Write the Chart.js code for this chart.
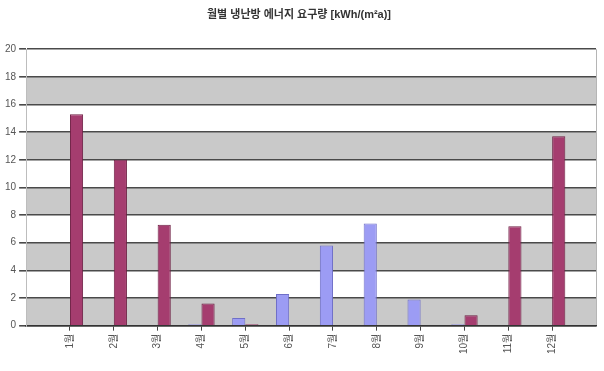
<!DOCTYPE html>
<html>
<head>
<meta charset="utf-8">
<script src="https://cdn.jsdelivr.net/npm/chart.js@4/dist/chart.umd.min.js"></script>
<style>
  html, body { margin: 0; padding: 0; background: #fff; }
  #wrap { width: 604px; height: 371px; }
</style>
</head>
<body>
<div id="wrap"><canvas id="myChart" width="604" height="371"></canvas></div>
<script>
// monthly cooling / heating demand
var months = ['1월', '2월', '3월', '4월', '5월', '6월', '7월', '8월', '9월', '10월', '11월', '12월'];
var cooling = [0, 0, 0, 0.1, 0.55, 2.3, 5.8, 7.4, 1.9, 0.1, 0, 0];
var heating = [15.3, 12.0, 7.3, 1.6, 0.1, 0, 0, 0, 0, 0.75, 7.2, 13.7];
var yTicks = [0, 2, 4, 6, 8, 10, 12, 14, 16, 18, 20];
var title = '월별 냉난방 에너지 요구량 [kWh/(m²a)]';

var fontFamily = '"Liberation Sans", "Noto Sans CJK KR", sans-serif';

function toPoints(vals) {
    return vals.map(function (v, i) { return { x: i + 1, y: v }; });
}

// grey / white stripes between the y gridlines
var bands = {
    id: 'bands',
    beforeDraw: function (chart) {
        var ctx = chart.ctx, area = chart.chartArea, y = chart.scales.y;
        ctx.save();
        ctx.fillStyle = '#ffffff';
        ctx.fillRect(area.left, area.top, area.right - area.left, area.bottom - area.top);
        ctx.fillStyle = '#c9c9c9';
        for (var i = 0; i < yTicks.length - 1; i++) {
            if (i % 2 === 0) {
                var top = y.getPixelForValue(yTicks[i + 1]);
                var bot = y.getPixelForValue(yTicks[i]);
                ctx.fillRect(area.left, top, area.right - area.left, bot - top);
            }
        }
        ctx.strokeStyle = '#b5b5b5';
        ctx.lineWidth = 1;
        ctx.beginPath();
        ctx.moveTo(area.right + 0.5, area.top);
        ctx.lineTo(area.right + 0.5, area.bottom);
        ctx.stroke();
        ctx.restore();
    }
};

var ctx = document.getElementById('myChart');
var myChart = new Chart(ctx, {
    type: 'bar',
    data: {
        datasets: [{
            label: '냉방',
            data: toPoints(cooling),
            backgroundColor: '#9c9cf4',
            borderColor: '#6f6fc8',
            borderWidth: 1,
            categoryPercentage: 0.6,
            barPercentage: 1
        }, {
            label: '난방',
            data: toPoints(heating),
            backgroundColor: '#a53d6f',
            borderColor: '#6e2044',
            borderWidth: 1,
            categoryPercentage: 0.6,
            barPercentage: 1
        }]
    },
    plugins: [bands],
    options: {
        responsive: false,
        animation: false,
        layout: { padding: { left: 2, right: 8, top: 4, bottom: 14 } },
        plugins: {
            legend: { display: false },
            tooltip: { enabled: false },
            title: {
                display: true,
                text: title,
                color: '#333',
                font: { family: fontFamily, size: 11, weight: 'bold' },
                padding: { top: 4, bottom: 28 }
            }
        },
        scales: {
            x: {
                type: 'linear',
                min: 0,
                max: months.length + 1,
                offset: false,
                afterFit: function (scale) {
                    // the empty end tick should not push the plot in
                    scale.paddingRight = -5;
                },
                grid: {
                    offset: false,
                    drawOnChartArea: false,
                    tickLength: 5,
                    color: function (c) {
                        var v = c.tick ? c.tick.value : 0;
                        return (v >= 1 && v <= months.length) ? '#444' : 'rgba(0,0,0,0)';
                    }
                },
                border: { color: '#333', width: 1.5 },
                ticks: {
                    stepSize: 1,
                    autoSkip: false,
                    minRotation: 90,
                    maxRotation: 90,
                    color: '#555',
                    font: { family: fontFamily, size: 10 },
                    callback: function (v) {
                        return (v >= 1 && v <= months.length) ? months[v - 1] : '';
                    }
                }
            },
            y: {
                min: 0,
                max: 20,
                grid: {
                    color: '#4a4a4a',
                    lineWidth: 1.6,
                    tickLength: 7
                },
                border: { color: '#bdbdbd', width: 1 },
                ticks: {
                    stepSize: 2,
                    color: '#555',
                    padding: 3,
                    font: { family: fontFamily, size: 10 }
                }
            }
        }
    }
});
</script>
</body>
</html>
